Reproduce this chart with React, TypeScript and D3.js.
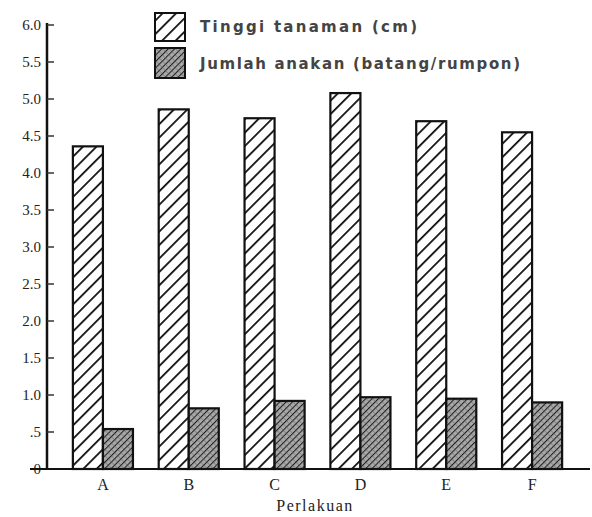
import React from "react";
import * as d3 from "d3";

const categories = ["A", "B", "C", "D", "E", "F"];
const tinggiTanaman = [4.36, 4.86, 4.74, 5.08, 4.7, 4.55];
const jumlahAnakan = [0.54, 0.82, 0.92, 0.97, 0.95, 0.9];
const seriesNames = ["Tinggi tanaman (cm)", "Jumlah anakan (batang/rumpon)"];
const yTicks = [0, 0.5, 1, 1.5, 2, 2.5, 3, 3.5, 4, 4.5, 5, 5.5, 6];
const yTickLabels = ["0", ".5", "1.0", "1.5", "2.0", "2.5", "3.0", "3.5", "4.0", "4.5", "5.0", "5.5", "6.0"];
const xTitle = "Perlakuan";

const W = 592;
const H = 517;

export default function App() {
  const y = d3.scaleLinear().domain([0, 6]).range([469, 25]);
  const x = d3
    .scaleBand<string>()
    .domain(categories)
    .range([60, 575])
    .paddingInner(0.3)
    .paddingOuter(0.15);
  const xs = d3.scaleBand<string>().domain(["t", "j"]).range([0, x.bandwidth()]);
  const serif = "'Liberation Serif', 'DejaVu Serif', serif";
  const sans = "'DejaVu Sans', 'Liberation Sans', sans-serif";

  return (
    <svg
      width={W}
      height={H}
      style={{ position: "absolute", left: 0, top: 0, background: "#fff" }}
    >
      <defs>
        <pattern id="hatchWide" patternUnits="userSpaceOnUse" width="9.5" height="9.5" patternTransform="rotate(45)">
          <rect width="9.5" height="9.5" fill="#fff" />
          <line x1="0" y1="0" x2="0" y2="9.5" stroke="#111" strokeWidth="3.6" />
        </pattern>
        <pattern id="hatchDense" patternUnits="userSpaceOnUse" width="4.5" height="4.5" patternTransform="rotate(45)">
          <rect width="4.5" height="4.5" fill="#a8a8a8" />
          <line x1="0" y1="0" x2="0" y2="4.5" stroke="#1a1a1a" strokeWidth="2" />
          <line x1="0" y1="0" x2="4.5" y2="0" stroke="#555" strokeWidth="0.8" />
        </pattern>
      </defs>

      {/* bars */}
      {categories.map((c, i) => {
        const x0 = x(c) as number;
        return (
          <g key={c}>
            <rect
              x={x0 + (xs("t") as number)}
              y={y(tinggiTanaman[i])}
              width={xs.bandwidth()}
              height={y(0) - y(tinggiTanaman[i])}
              fill="url(#hatchWide)"
              stroke="#111"
              strokeWidth={2.2}
            />
            <rect
              x={x0 + (xs("j") as number)}
              y={y(jumlahAnakan[i])}
              width={xs.bandwidth()}
              height={y(0) - y(jumlahAnakan[i])}
              fill="url(#hatchDense)"
              stroke="#111"
              strokeWidth={2.2}
            />
          </g>
        );
      })}

      {/* y axis */}
      <line x1={47} x2={47} y1={y(6) - 2} y2={y(0)} stroke="#111" strokeWidth={2.5} />
      {yTicks.map((t, i) => (
        <g key={t}>
          <line x1={47} x2={54} y1={y(t)} y2={y(t)} stroke="#333" strokeWidth={1.5} />
          <text
            x={41}
            y={y(t)}
            dy="0.35em"
            textAnchor="end"
            fontFamily={serif}
            fontSize={15}
            fill="#222"
          >
            {yTickLabels[i]}
          </text>
        </g>
      ))}

      {/* baseline */}
      <line x1={30} x2={590} y1={y(0)} y2={y(0)} stroke="#111" strokeWidth={2} />

      {/* x labels */}
      {categories.map((c) => (
        <text
          key={c}
          x={(x(c) as number) + x.bandwidth() / 2}
          y={490}
          textAnchor="middle"
          fontFamily={serif}
          fontSize={16}
          fill="#222"
        >
          {c}
        </text>
      ))}
      <text
        x={315}
        y={511}
        textAnchor="middle"
        fontFamily={serif}
        fontSize={16}
        letterSpacing={1.5}
        fill="#222"
      >
        {xTitle}
      </text>

      {/* legend */}
      <rect x={155} y={13} width={30} height={28} fill="url(#hatchWide)" stroke="#111" strokeWidth={2} />
      <text x={200} y={32} fontFamily={sans} fontSize={15} fontWeight="bold" fill="#444" textLength={217} lengthAdjust="spacing">
        {seriesNames[0]}
      </text>
      <rect x={155} y={48} width={30} height={30} fill="url(#hatchDense)" stroke="#111" strokeWidth={2} />
      <text x={200} y={69} fontFamily={sans} fontSize={15} fontWeight="bold" fill="#444" textLength={320} lengthAdjust="spacing">
        {seriesNames[1]}
      </text>
    </svg>
  );
}
